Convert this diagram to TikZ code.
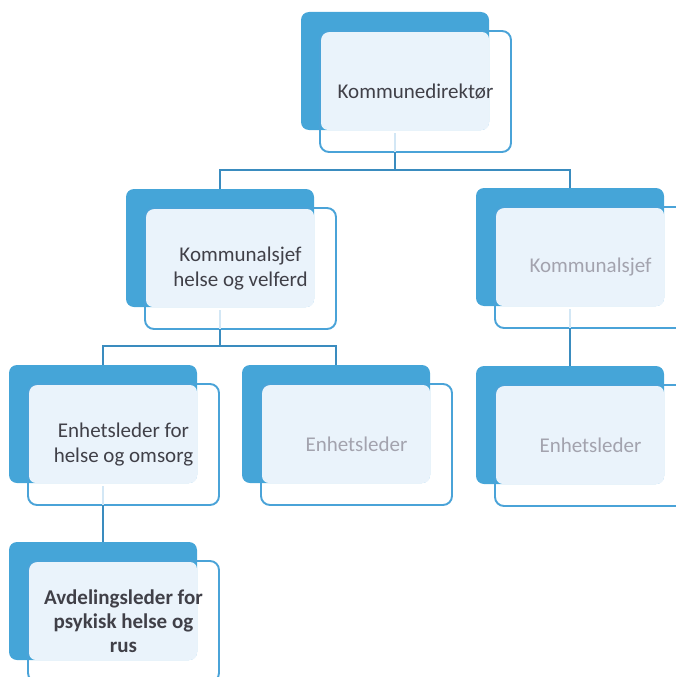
\documentclass[tikz,border=0pt]{standalone}
\usepackage{fontspec}
\setmainfont{Carlito}
\usetikzlibrary{calc}
\definecolor{blueF}{HTML}{45A5D8}
\definecolor{outl}{HTML}{4AA3D8}
\definecolor{lightF}{HTML}{EAF3FB}
\definecolor{connC}{HTML}{3A8CBF}
\definecolor{faintC}{HTML}{D3E7F5}
\definecolor{txtD}{HTML}{404048}
\definecolor{txtG}{HTML}{A3A3AE}
\tikzset{
  backbox/.style={rectangle, anchor=north west, inner sep=0pt, outer sep=0pt,
    minimum width=188pt, minimum height=118pt, rounded corners=8pt, fill=blueF},
  outbox/.style={rectangle, anchor=north west, inner sep=0pt, outer sep=0pt,
    minimum width=191pt, minimum height=121pt, rounded corners=9pt, draw=outl,
    line width=1.9pt, align=center, font=\fontsize{21}{25}\selectfont},
  darktext/.style={text=txtD},
  greytext/.style={text=txtG},
  boldtext/.style={text=txtD, font=\fontsize{21}{24}\selectfont\bfseries},
  conn/.style={draw=connC, line width=1.9pt},
  faint/.style={draw=faintC, line width=1.9pt}
}
\newcommand\orgbox[5]{%
  \node[backbox] (#1-back) at (#2,#3) {};
  \fill[lightF, rounded corners=7pt] ($(#1-back.north west)+(20,20)$) rectangle (#1-back.south east);
  \node[outbox,#4] (#1) at ($(#1-back.north west)+(19,19)$) {#5};
}
\newcommand\faintstub[1]{%
  \draw[faint] ($(#1-back.south)+(0,3)$) -- (#1-back.south |- #1.south);
}
\begin{document}
\begin{tikzpicture}[x=1pt,y=-1pt]
\useasboundingbox (0,0) rectangle (676,677);
\orgbox{A}{301}{12}{darktext}{Kommunedirektør}
\orgbox{B}{126}{189}{darktext}{Kommunalsjef\\helse og velferd}
\orgbox{C}{476}{188}{greytext}{Kommunalsjef}
\orgbox{D1}{9}{365}{darktext}{Enhetsleder for\\helse og omsorg}
\orgbox{D2}{242}{365}{greytext}{Enhetsleder}
\orgbox{E}{476}{366}{greytext}{Enhetsleder}
\orgbox{F}{9}{542}{boldtext}{Avdelingsleder for\\psykisk helse og\\rus}
\faintstub{A}
\faintstub{B}
\faintstub{C}
\faintstub{D1}
% connectors
\draw[conn] (A-back.south |- A.south) -- ++(0,18) coordinate (busA);
\draw[conn] (busA) -| (B-back.north);
\draw[conn] (busA) -| (C-back.north);
\draw[conn] (B-back.south |- B.south) -- ++(0,17) coordinate (busB);
\draw[conn] (busB) -| (D1-back.north);
\draw[conn] (busB) -| (D2-back.north);
\draw[conn] (C-back.south |- C.south) -- (E-back.north);
\draw[conn] (D1-back.south |- D1.south) -- (F-back.north);
\end{tikzpicture}
\end{document}
